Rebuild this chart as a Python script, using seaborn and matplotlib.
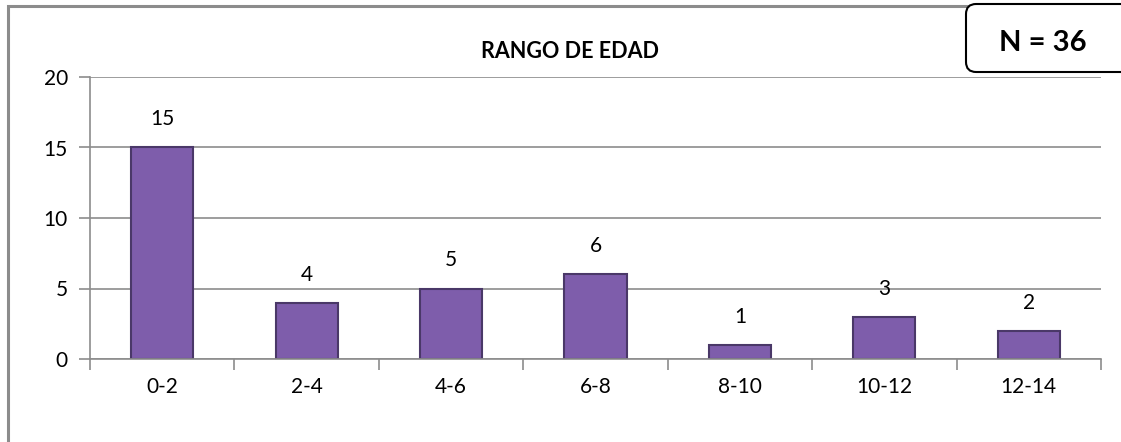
import matplotlib
matplotlib.use("Agg")
import matplotlib.pyplot as plt
import seaborn as sns
import pandas as pd
from matplotlib.patches import FancyBboxPatch, Rectangle

categories = ["0-2", "2-4", "4-6", "6-8", "8-10", "10-12", "12-14"]
values = [15, 4, 5, 6, 1, 3, 2]
y_ticks = [0, 5, 10, 15, 20]
title = "RANGO DE EDAD"
n_label = "N = 36"

sns.set_theme(style="white")
plt.rcParams['font.family'] = ['Lato', 'DejaVu Sans']

W, H = 1121, 442
fig = plt.figure(figsize=(W / 100, H / 100), dpi=100)
ax = fig.add_axes([90 / W, 1 - 359 / H, (1101 - 90) / W, (359 - 77) / H])

df = pd.DataFrame({"cat": categories, "val": values})
sns.barplot(data=df, x="cat", y="val", ax=ax, color="#7E5DAB", width=0.43,
            edgecolor="#4A3868", linewidth=1.5, saturation=1)

ax.set_ylim(0, 20)
ax.set_xlim(-0.5, len(categories) - 0.5)
ax.set_yticks(y_ticks)
ax.set_xlabel("")
ax.set_ylabel("")
ax.grid(axis="y", color="#8C8C8C", linewidth=1.2)
ax.set_axisbelow(True)
for s in ["top", "right"]:
    ax.spines[s].set_visible(False)
for s in ["left", "bottom"]:
    ax.spines[s].set_color("#8C8C8C")
    ax.spines[s].set_linewidth(1.2)

ax.tick_params(axis="y", which="major", length=8, width=1.2, color="#8C8C8C",
               labelsize=15, pad=8, left=True)
ax.tick_params(axis="x", which="major", length=0, labelsize=15, pad=13)
ax.set_xticks(range(len(categories)))
ax.set_xticklabels(categories)
ax.set_xticks([i - 0.5 for i in range(len(categories) + 1)], minor=True)
ax.tick_params(axis="x", which="minor", length=8, width=1.2, color="#8C8C8C", bottom=True)
for lab in ax.get_xticklabels() + ax.get_yticklabels():
    lab.set_color("black")

for i, v in enumerate(values):
    ax.annotate(str(v), (i, v), xytext=(0, 13), textcoords="offset points",
                ha="center", va="bottom", fontsize=15, color="black")

fig.text(570 / W, 1 - 52 / H, title, ha="center", va="center",
         fontsize=15.5, fontweight="bold", color="black")

# outer chart frame
fig.add_artist(Rectangle((8 / W, -0.1), 1.2, 1 - 6 / H + 0.1, transform=fig.transFigure,
                         fill=False, edgecolor="#8C8C8C", linewidth=2.2))

# N box
box = FancyBboxPatch((966 / W, 1 - 72 / H), 200 / W, 68 / H,
                     boxstyle="round,pad=0,rounding_size=0.009",
                     transform=fig.transFigure, facecolor="white",
                     edgecolor="black", linewidth=1.5, mutation_aspect=W / H)
fig.add_artist(box)
fig.text(1043 / W, 1 - 43 / H, n_label, ha="center", va="center",
         fontsize=21, fontweight="bold", color="black")

fig.savefig("out.png", dpi=100)
